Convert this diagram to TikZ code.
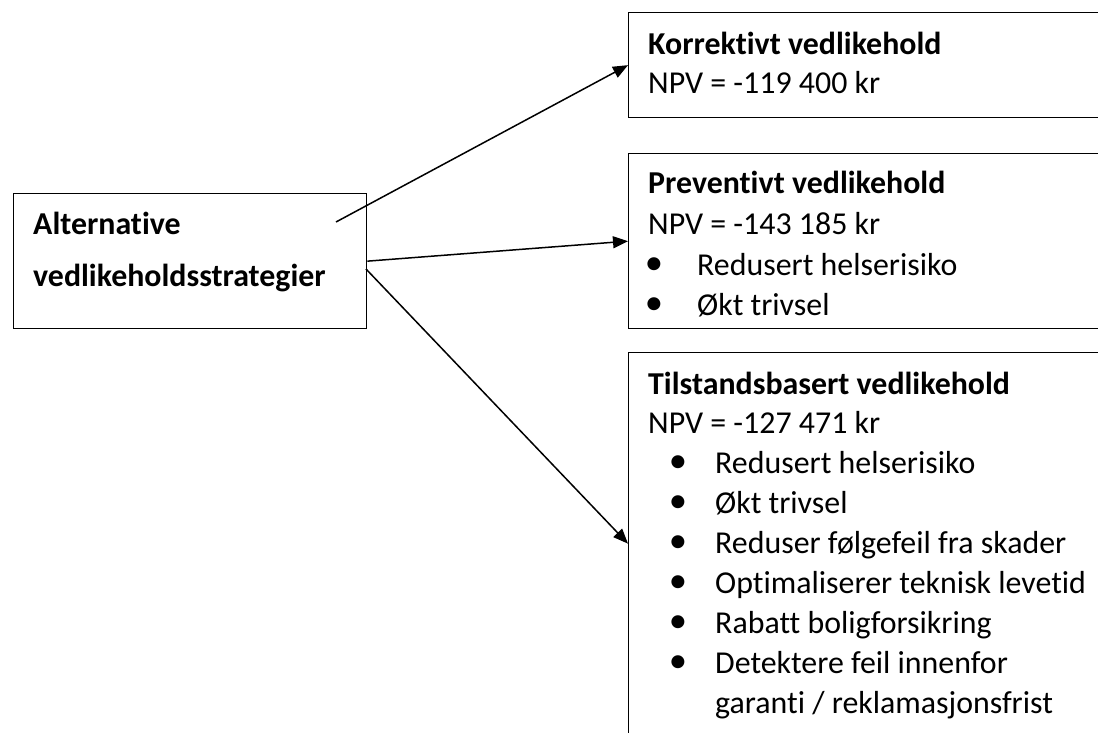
\documentclass[tikz,border=0pt]{standalone}
\usepackage{fontspec}
\setmainfont{Carlito}[Ligatures={NoCommon}]
\usetikzlibrary{arrows.meta}
\tikzset{
  box/.style={draw=black, line width=1.3bp, rectangle, inner sep=0pt, anchor=north west},
  txt/.style={anchor=base west, inner sep=0pt, font=\fontsize{32}{40}\selectfont},
  ttl/.style={txt, font=\fontsize{32}{40}\selectfont\bfseries},
  bul/.style={anchor=base, inner sep=0pt, font=\fontsize{32}{40}\selectfont},
  conn/.style={line width=1.5bp, -{Triangle[length=15bp,width=12bp]}}
}
\newcommand{\bl}{\raisebox{0.02em}{\scalebox{1.15}{•}}}
\begin{document}
\begin{tikzpicture}[x=1bp,y=-1bp]
\useasboundingbox (0,0) rectangle (1098,733);
\clip (0,0) rectangle (1098,733);
\fill[white] (0,0) rectangle (1098,733);
% boxes
\node[box, minimum width=353bp, minimum height=135bp] (alt) at (13,193) {};
\node[box, minimum width=520bp, minimum height=105bp] (kor) at (628,12) {};
\node[box, minimum width=520bp, minimum height=175bp] (pre) at (628,153) {};
\node[box, minimum width=520bp, minimum height=382bp] (til) at (628,352) {};
% left text
\node[ttl] (a1) at (33,234) {Alternative};
\node[ttl] (a2) at (33,286) {vedlikeholdsstrategier};
% box 1
\node[ttl] (k1) at (648,55) {Korrektivt vedlikehold};
\node[txt] (k2) at (648,94) {NPV = -119 400 kr};
% box 2
\node[ttl] (p1) at (648,194) {Preventivt vedlikehold};
\node[txt] (p2) at (648,234) {NPV = -143 185 kr};
\node[bul] (pb1) at (654,275) {\bl};
\node[txt] (p3) at (697,275) {Redusert helserisiko};
\node[bul] (pb2) at (654,315) {\bl};
\node[txt] (p4) at (697,315) {Økt trivsel};
% box 3
\node[ttl] (t1) at (648,394) {Tilstandsbasert vedlikehold};
\node[txt] (t2) at (648,433) {NPV = -127 471 kr};
\foreach \yy/\tt [count=\i] in {473/Redusert helserisiko, 513/Økt trivsel, 553/Reduser følgefeil fra skader, 593/Optimaliserer teknisk levetid, 633/Rabatt boligforsikring, 673/Detektere feil innenfor}{
  \node[bul] (tb\i) at (678,\yy) {\bl};
  \node[txt] (tt\i) at (715,\yy) {\tt};
}
\node[txt] (t9) at (715,713) {garanti / reklamasjonsfrist};
% connectors
\coordinate (s1) at (336,222);
\coordinate (s3) at (366,269);
\draw[conn] (s1) -- (kor.west);
\draw[conn] (alt.east) -- (pre.west);
\draw[conn] (s3) -- (til.west);
\end{tikzpicture}
\end{document}
